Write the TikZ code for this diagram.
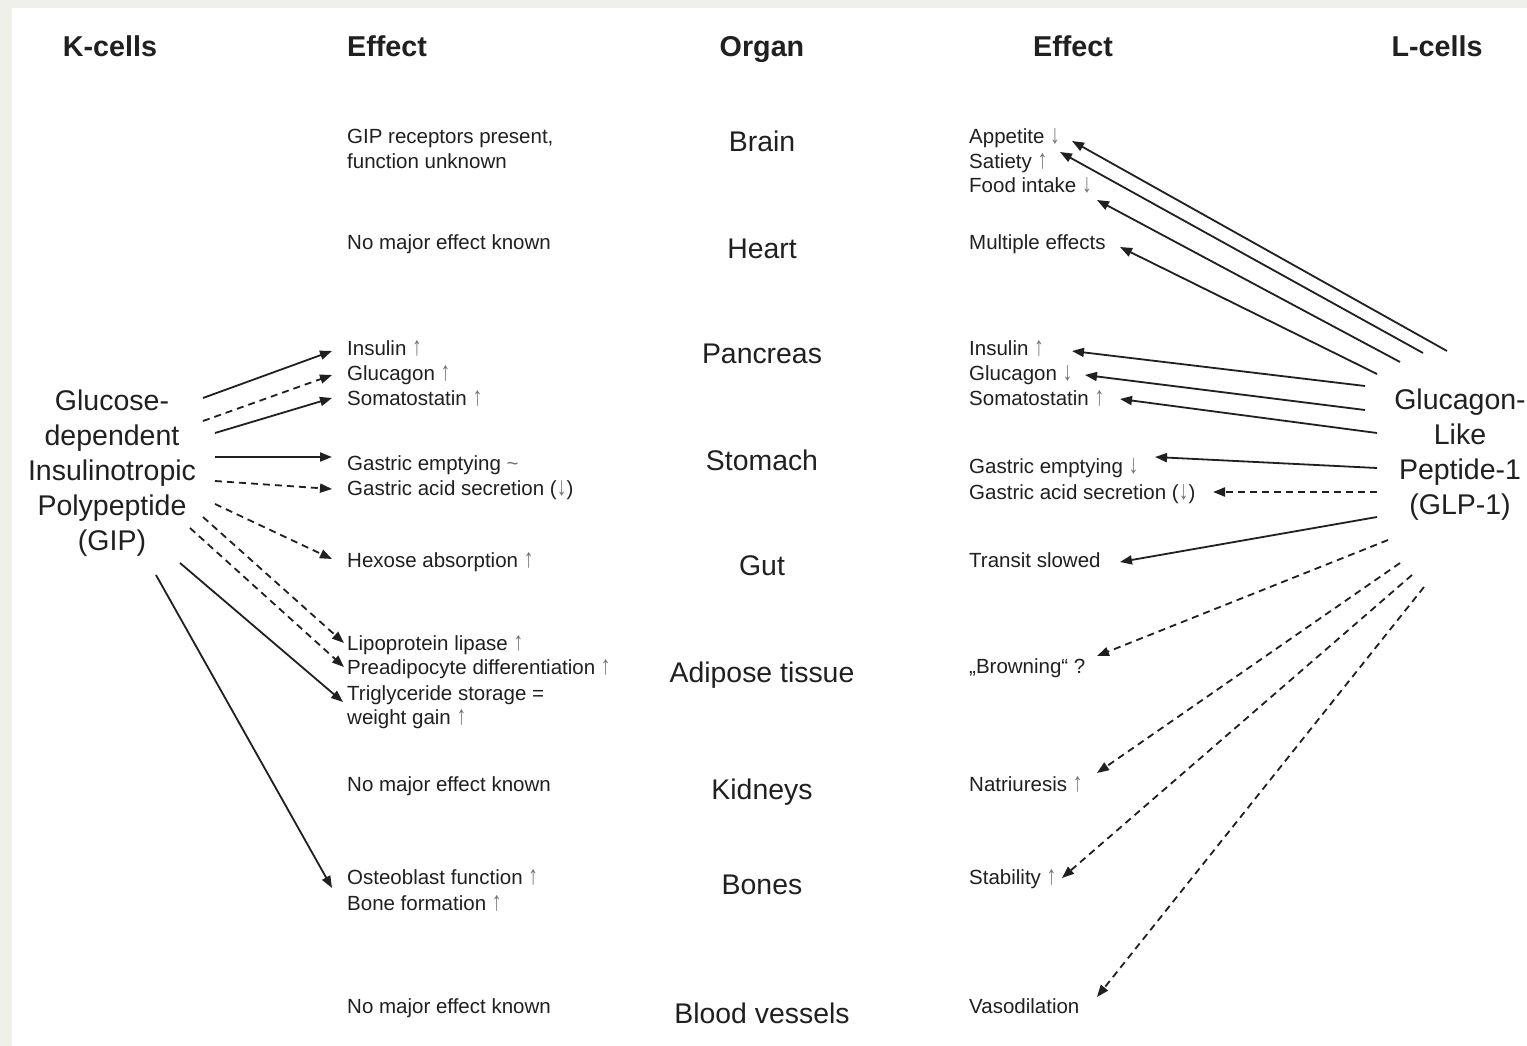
\documentclass[tikz,border=0pt]{standalone}
\usepackage{fontspec}
\usepackage{graphicx}
\setmainfont{Liberation Sans}
\usetikzlibrary{arrows.meta}
\definecolor{txt}{rgb}{0.13,0.12,0.13}
\definecolor{bgray}{rgb}{0.94,0.94,0.92}
\definecolor{arrgray}{rgb}{0.45,0.45,0.45}
\newcommand\uarr{{\color{arrgray}\scalebox{0.95}[1.3]{↑}}}
\newcommand\darr{{\color{arrgray}\scalebox{0.95}[1.3]{↓}}}
\begin{document}
\begin{tikzpicture}[x=1pt,y=-1pt,
  hdr/.style={font=\fontsize{28.7}{34}\selectfont\bfseries, text=txt, inner sep=0pt, anchor=base},
  organ/.style={font=\fontsize{28.4}{34}\selectfont, text=txt, inner sep=0pt, anchor=base},
  eff/.style={font=\fontsize{20.5}{25}\selectfont, text=txt, inner sep=0pt, anchor=base west},
  hormone/.style={font=\fontsize{28.5}{35}\selectfont, text=txt, align=center, inner sep=0pt},
  conn/.style={draw=txt, line width=1.8pt, -{Triangle[length=12pt,width=9pt]}},
  dconn/.style={conn, dash pattern=on 7pt off 5pt}]
\useasboundingbox (0,0) rectangle (1527,1046);
\fill[bgray] (0,0) rectangle (1527,1046);
\fill[white] (12,8) rectangle (1527,1046);

% headers
\node[hdr] (hk) at (110,57) {K-cells};
\node[hdr] (he1) at (387,57) {Effect};
\node[hdr] (ho) at (762,57) {Organ};
\node[hdr] (he2) at (1073,57) {Effect};
\node[hdr] (hl) at (1437,57) {L-cells};

% organs
\node[organ] (brain) at (762,152) {Brain};
\node[organ] (heart) at (762,258) {Heart};
\node[organ] (pancreas) at (762,363) {Pancreas};
\node[organ] (stomach) at (762,470) {Stomach};
\node[organ] (gut) at (762,575) {Gut};
\node[organ] (adipose) at (762,682) {Adipose tissue};
\node[organ] (kidneys) at (762,799) {Kidneys};
\node[organ] (bones) at (762,894) {Bones};
\node[organ] (vessels) at (762,1023) {Blood vessels};

% hormones
\node[hormone] (gip) at (112,473) {Glucose-\\dependent\\Insulinotropic\\Polypeptide\\(GIP)};
\node[hormone] (glp) at (1460,455) {Glucagon-\\Like\\Peptide-1\\(GLP-1)};

% left effects
\node[eff] (lgip1) at (347,144) {GIP receptors present,};
\node[eff] (lgip2) at (347,168) {function unknown};
\node[eff] (lheart) at (347,249) {No major effect known};
\node[eff] (lins) at (347,355) {Insulin \uarr};
\node[eff] (lglu) at (347,380) {Glucagon \uarr};
\node[eff] (lsom) at (347,405) {Somatostatin \uarr};
\node[eff] (lge) at (347,470) {Gastric emptying {\color{arrgray}\textasciitilde}};
\node[eff] (lga) at (347,495) {Gastric acid secretion (\darr)};
\node[eff] (lhex) at (347,567) {Hexose absorption \uarr};
\node[eff] (llip) at (347,650) {Lipoprotein lipase \uarr};
\node[eff] (lpre) at (347,674) {Preadipocyte differentiation \uarr};
\node[eff] (ltri) at (347,700) {Triglyceride storage =};
\node[eff] (lwg) at (347,724) {weight gain \uarr};
\node[eff] (lkid) at (347,791) {No major effect known};
\node[eff] (lost) at (347,884) {Osteoblast function \uarr};
\node[eff] (lbone) at (347,910) {Bone formation \uarr};
\node[eff] (lves) at (347,1013) {No major effect known};

% right effects
\node[eff] (rapp) at (969,144) {Appetite \darr};
\node[eff] (rsat) at (969,168) {Satiety \uarr};
\node[eff] (rfood) at (969,193) {Food intake \darr};
\node[eff] (rmult) at (969,249) {Multiple effects};
\node[eff] (rins) at (969,355) {Insulin \uarr};
\node[eff] (rglu) at (969,380) {Glucagon \darr};
\node[eff] (rsom) at (969,405) {Somatostatin \uarr};
\node[eff] (rge) at (969,473) {Gastric emptying \darr};
\node[eff] (rga) at (969,499) {Gastric acid secretion (\darr)};
\node[eff] (rtra) at (969,567) {Transit slowed};
\node[eff] (rbro) at (969,673) {„Browning“ ?};
\node[eff] (rnat) at (969,791) {Natriuresis \uarr};
\node[eff] (rsta) at (969,884) {Stability \uarr};
\node[eff] (rvas) at (969,1013) {Vasodilation};

% GIP connectors
\draw[conn]  ([shift={(91,-75)}]gip.center) -- ([shift={(-15,-4)}]lins.base west);
\draw[dconn] ([shift={(91,-52)}]gip.center) -- ([shift={(-15,-5)}]lglu.base west);
\draw[conn]  ([shift={(103,-40)}]gip.center) -- ([shift={(-15,-7)}]lsom.base west);
\draw[conn]  ([shift={(103,-16)}]gip.center) -- ([shift={(-15,-13)}]lge.base west);
\draw[dconn] ([shift={(103,8)}]gip.center) -- ([shift={(-15,-6)}]lga.base west);
\draw[dconn] ([shift={(103,31)}]gip.center) -- ([shift={(-15,-8)}]lhex.base west);
\draw[dconn] ([shift={(91,44)}]gip.center) -- ([shift={(-3,-7)}]llip.base west);
\draw[dconn] ([shift={(78,55)}]gip.center) -- ([shift={(-3,-7)}]lpre.base west);
\draw[conn]  ([shift={(68,90)}]gip.center) -- ([shift={(-4,2)}]ltri.base west);
\draw[conn]  ([shift={(44,102)}]gip.center) -- ([shift={(-15,4)}]lost.base west);

% GLP-1 connectors
\draw[conn]  ([shift={(-13,-104)}]glp.center) -- ([shift={(103,-3)}]rapp.base west);
\draw[conn]  ([shift={(-37,-102)}]glp.center) -- ([shift={(91,-16)}]rsat.base west);
\draw[conn]  ([shift={(-60,-93)}]glp.center) -- ([shift={(128,7)}]rfood.base west);
\draw[conn]  ([shift={(-83,-81)}]glp.center) -- ([shift={(151,-2)}]rmult.base west);
\draw[conn]  ([shift={(-95,-69)}]glp.center) -- ([shift={(103,-4)}]rins.base west);
\draw[conn]  ([shift={(-95,-45)}]glp.center) -- ([shift={(116,-5)}]rglu.base west);
\draw[conn]  ([shift={(-83,-22)}]glp.center) -- ([shift={(151,-6)}]rsom.base west);
\draw[conn]  ([shift={(-83,13)}]glp.center) -- ([shift={(186,-16)}]rge.base west);
\draw[dconn] ([shift={(-83,37)}]glp.center) -- ([shift={(244,-7)}]rga.base west);
\draw[conn]  ([shift={(-83,62)}]glp.center) -- ([shift={(151,-5)}]rtra.base west);
\draw[dconn] ([shift={(-72,85)}]glp.center) -- ([shift={(128,-17)}]rbro.base west);
\draw[dconn] ([shift={(-60,108)}]glp.center) -- ([shift={(128,-18)}]rnat.base west);
\draw[dconn] ([shift={(-48,120)}]glp.center) -- ([shift={(93,-6)}]rsta.base west);
\draw[dconn] ([shift={(-36,132)}]glp.center) -- ([shift={(128,-16)}]rvas.base west);
\end{tikzpicture}
\end{document}
